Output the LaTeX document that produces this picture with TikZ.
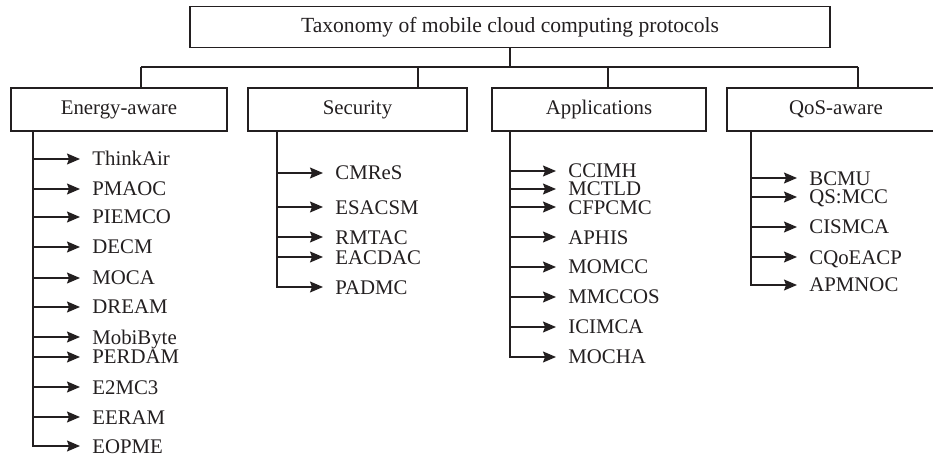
\documentclass[tikz,border=0pt]{standalone}
\usepackage{fontspec}
\setmainfont{Liberation Serif}
\usetikzlibrary{arrows.meta}
\definecolor{ink}{HTML}{231F20}
\begin{document}
\begin{tikzpicture}[x=0.5pt,y=-0.5pt,
  box/.style={draw=ink, line width=0.6pt, inner sep=0pt, minimum height=21.5pt,
    font=\fontsize{10.4}{12}\selectfont, text=ink},
  link/.style={draw=ink, line width=0.6pt},
  arr/.style={link, -{Stealth[length=6.5pt,width=5.5pt,inset=1pt]}},
  item/.style={anchor=west, inner xsep=6pt, inner ysep=0pt, text height=7pt,
    text depth=0pt, font=\fontsize{10.4}{12}\selectfont, text=ink}]
\useasboundingbox (0,0) rectangle (933,460);
\clip (0,0) rectangle (933,460);

% root and the four categories
\node[box, minimum width=320pt, minimum height=20.5pt,
      font=\fontsize{10.8}{13}\selectfont] (root) at (510,27)
      {Taxonomy of mobile cloud computing protocols};
\node[box, minimum width=108pt]   (energy)   at (119,109.5) {Energy-aware};
\node[box, minimum width=109.5pt] (security) at (357.5,109.5) {Security};
\node[box, minimum width=107pt]   (apps)     at (599,109.5) {Applications};
\node[box, minimum width=109pt]   (qos)      at (836,109.5) {QoS-aware};

% distribution bus
\coordinate (ej) at (141,67);
\coordinate (sj) at (418,67);
\coordinate (aj) at (608,67);
\coordinate (qj) at (858,67);
\draw[link] (root.south) -- (root.south |- ej);
\draw[link] (ej) -- (qj);
\draw[link] (ej) -- (ej |- energy.north);
\draw[link] (sj) -- (sj |- security.north);
\draw[link] (aj) -- (aj |- apps.north);
\draw[link] (qj) -- (qj |- qos.north);

% trunk positions
\coordinate (etr) at (33,0);
\coordinate (str) at (277,0);
\coordinate (atr) at (510,0);
\coordinate (qtr) at (751,0);

% Energy-aware protocols
\foreach \y/\t [count=\i] in {159/ThinkAir, 189/PMAOC, 217/PIEMCO, 247/DECM,
    278/MOCA, 307/DREAM, 337/MobiByte, 357/PERDAM, 387/E2MC3, 417/EERAM,
    446/EOPME}{
  \node[item] (e\i) at (80,\y) {\t};
}
\foreach \i in {1,...,10}{\draw[arr] (etr |- e\i) -- (e\i.west);}
\draw[arr] (etr |- energy.south) -- (etr |- e11) -- (e11.west);

% Security protocols
\foreach \y/\t [count=\i] in {173/CMReS, 207/ESACSM, 237/RMTAC, 257/EACDAC,
    287/PADMC}{
  \node[item] (s\i) at (323,\y) {\t};
}
\foreach \i in {1,...,4}{\draw[arr] (str |- s\i) -- (s\i.west);}
\draw[arr] (str |- security.south) -- (str |- s5) -- (s5.west);

% Application protocols
\foreach \y/\t [count=\i] in {171/CCIMH, 189/MCTLD, 207/CFPCMC, 237/APHIS,
    267/MOMCC, 297/MMCCOS, 327/ICIMCA, 357/MOCHA}{
  \node[item] (a\i) at (556,\y) {\t};
}
\foreach \i in {1,...,7}{\draw[arr] (atr |- a\i) -- (a\i.west);}
\draw[arr] (atr |- apps.south) -- (atr |- a8) -- (a8.west);

% QoS-aware protocols
\foreach \y/\t [count=\i] in {178/BCMU, 197/QS:MCC, 227/CISMCA, 257/CQoEACP,
    285/APMNOC}{
  \node[item] (q\i) at (797,\y) {\t};
}
\foreach \i in {1,...,4}{\draw[arr] (qtr |- q\i) -- (q\i.west);}
\draw[arr] (qtr |- qos.south) -- (qtr |- q5) -- (q5.west);
\end{tikzpicture}
\end{document}
